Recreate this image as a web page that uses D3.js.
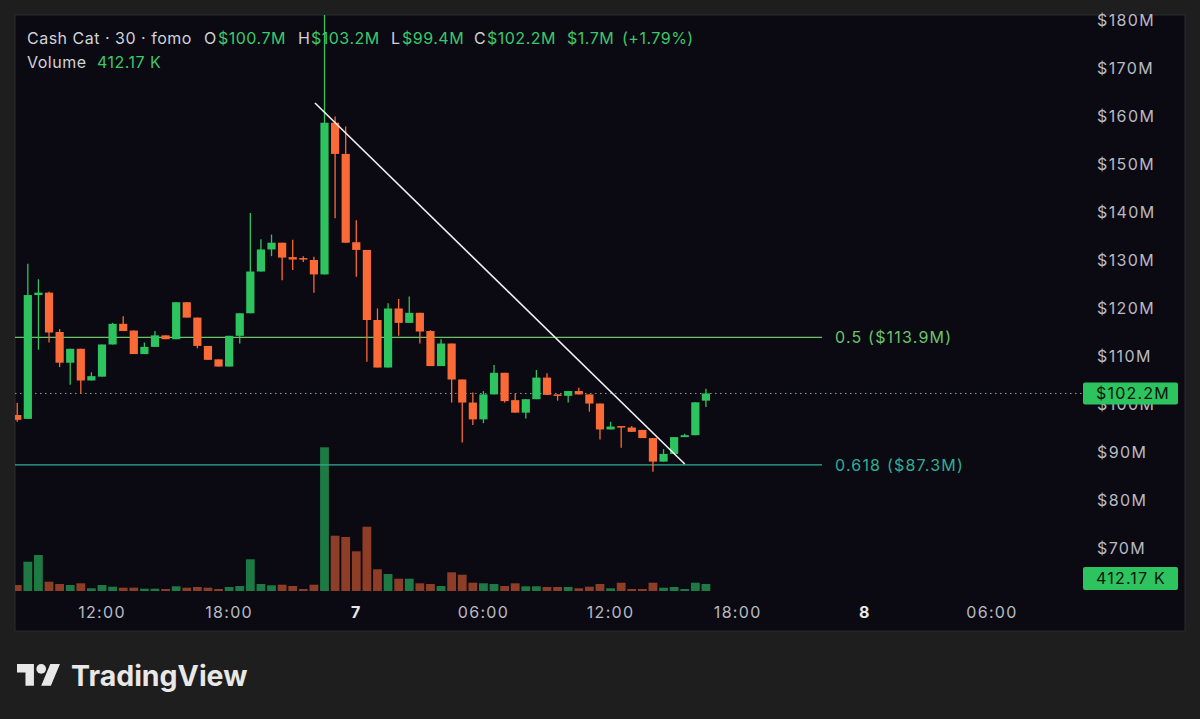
<!DOCTYPE html>
<html><head><meta charset="utf-8">
<script src="https://cdn.jsdelivr.net/npm/d3@7"></script>
<style>
html,body{margin:0;padding:0;background:#1e1e1e;}
svg{display:block;}
text{font-family:Inter,"Noto Sans",sans-serif;}
</style></head>
<body>
<svg id="chart" width="1200" height="719"></svg>
<script>
// ---------- DATA ----------
const startTime = new Date(2024, 5, 6, 8, 0);
const barMinutes = 30;
const opens  = [97.7,96.9,122.7,123.2,115.0,108.6,111.5,104.9,105.7,112.4,116.7,115.3,110.4,111.9,114.3,113.5,121.2,118.0,112.1,109.3,107.8,114.2,118.9,127.6,132.2,133.6,130.6,130.4,130.0,127.0,158.6,152.1,133.7,132.1,117.5,107.6,119.9,116.9,119.0,115.2,107.9,112.6,105.1,100.3,96.8,102.0,106.5,100.8,98.2,101.0,105.5,102.0,101.7,102.7,102.0,100.1,94.7,95.4,95.1,94.6,92.9,88.0,89.6,93.1,93.5,100.7];
const highs  = [100.2,129.2,126.0,123.4,115.6,111.5,111.5,106.6,112.4,116.9,118.3,115.3,112.8,115.2,114.3,121.2,121.2,118.0,112.1,109.3,114.2,118.9,139.8,134.3,135.3,133.6,134.2,130.8,130.7,186.0,159.9,157.8,138.3,132.1,119.9,121.0,121.9,122.4,119.0,115.4,113.5,112.6,105.1,102.4,102.7,108.1,106.5,102.2,101.0,107.1,106.4,102.0,102.7,103.4,102.0,100.1,96.3,95.4,95.4,94.6,92.9,90.6,93.1,93.8,100.35,103.2];
const lows   = [96.3,96.9,111.3,112.8,107.7,104.0,102.3,104.9,105.7,112.4,115.2,110.4,110.4,111.9,113.5,113.5,118.0,111.6,109.2,107.8,107.8,112.6,118.9,127.6,130.8,125.8,127.9,129.6,123.2,127.0,138.7,133.6,126.5,108.8,107.6,107.6,114.2,116.9,112.6,107.9,107.9,100.3,92.0,95.6,96.0,102.0,100.3,98.2,97.0,101.0,101.9,100.7,100.3,102.0,98.4,92.6,94.7,90.9,94.2,92.9,85.9,88.0,89.6,93.1,93.5,99.4];
const closes = [96.7,122.7,123.2,114.9,108.6,111.5,104.9,105.8,112.4,116.7,115.2,110.4,111.9,114.3,113.5,121.2,118.0,112.1,109.2,107.8,114.2,118.9,127.6,132.2,133.6,130.5,130.1,130.1,127.0,158.6,152.1,133.6,132.1,117.5,107.6,119.9,116.9,119.0,115.1,107.9,112.6,105.1,100.3,96.8,102.0,106.5,100.6,98.2,101.0,105.5,101.9,101.7,102.7,102.0,100.1,94.7,95.3,95.1,94.2,92.9,88.0,89.6,93.1,93.5,100.35,102.2];
const volumesK = [353,1726,2120,548,412,353,453,159,353,253,194,194,135,135,118,277,194,236,194,118,236,295,1867,412,336,371,295,118,371,8464,3257,3181,2338,3787,1278,1001,724,724,453,412,295,1101,960,489,453,412,295,453,277,277,236,236,236,159,253,412,159,489,118,118,489,194,236,118,489,412.17];

const priceTicks = [70,80,90,100,110,120,130,140,150,160,170,180];
const timeTicks = [new Date(2024,5,6,12), new Date(2024,5,6,18), new Date(2024,5,7,0), new Date(2024,5,7,6), new Date(2024,5,7,12), new Date(2024,5,7,18), new Date(2024,5,8,0), new Date(2024,5,8,6)];
const timeTickLabels = ["12:00","18:00","7","06:00","12:00","18:00","8","06:00"];
const dayTicks = ["7","8"];

const fibLevels = [0.5, 0.618];
const fibPrices = [113.9, 87.3];
const trendStart = {time: new Date(2024,5,6,22,3), price: 162.7};
const trendEnd   = {time: new Date(2024,5,7,15,30), price: 87.5};

const symbolText = "Cash Cat · 30 · fomo";
const lastO = 100.7, lastH = 103.2, lastL = 99.4, lastC = 102.2, lastChange = 1.7, lastChangePct = 1.79;
const lastVolumeLabel = "412.17 K";

// ---------- STYLE ----------
const UP = "#2dc45f", DOWN = "#fa6a37";
const UPV = "#1d7a45", DOWNV = "#8e3d27";
const BG = "#0b0a12";
const AXIS_TXT = "#b8bac2";

const svg = d3.select("#chart");
const W = 1200, H = 719;
const pane = {x0: 15, y0: 15, x1: 1185, y1: 631};
const plotRight = 1083;

svg.append("rect").attr("width", W).attr("height", H).attr("fill", "#1e1e1e");
svg.append("rect").attr("x", pane.x0).attr("y", pane.y0).attr("width", pane.x1 - pane.x0).attr("height", pane.y1 - pane.y0).attr("fill", BG).attr("stroke", "#2a2a30").attr("stroke-width", 1);

const times = opens.map((_, i) => new Date(startTime.getTime() + i * barMinutes * 60000));

const x = d3.scaleTime().domain([new Date(2024,5,6,12), new Date(2024,5,8,6)]).range([102, 992]);
const y = d3.scaleLinear().domain([70, 180]).range([548, 20]);
const yv = d3.scaleLinear().domain([0, 8500]).range([591, 446.7]);

const bodyW = 8.2, volW = 8.8;

svg.append("defs").append("clipPath").attr("id", "plotclip")
  .append("rect").attr("x", pane.x0).attr("y", pane.y0).attr("width", plotRight - pane.x0).attr("height", 590 - pane.y0 + 1);

const plot = svg.append("g").attr("clip-path", "url(#plotclip)");

// volume
plot.append("g").selectAll("rect").data(volumesK).join("rect")
  .attr("x", (d, i) => x(times[i]) - volW / 2)
  .attr("y", d => yv(d))
  .attr("width", volW)
  .attr("height", d => yv(0) - yv(d))
  .attr("fill", (d, i) => closes[i] >= opens[i] ? UPV : DOWNV);

// fib lines
const fibColors = ["#6cc36a", "#2fae96"];
fibPrices.forEach((p, k) => {
  plot.append("line").attr("x1", pane.x0).attr("x2", 822).attr("y1", y(p)).attr("y2", y(p))
    .attr("stroke", fibColors[k]).attr("stroke-width", 1.2);
  svg.append("text").attr("x", 835).attr("y", y(p)).attr("dy", "0.36em")
    .attr("fill", fibColors[k]).attr("font-size", 16).attr("letter-spacing", 1.2)
    .text(`${fibLevels[k]} ($${fibPrices[k]}M)`);
});

// last price dotted line
plot.append("line").attr("x1", pane.x0).attr("x2", plotRight).attr("y1", y(lastC)).attr("y2", y(lastC))
  .attr("stroke", "#8aa58f").attr("stroke-width", 1).attr("stroke-dasharray", "1.5,3.5");

// candles
const cg = plot.append("g");
opens.forEach((o, i) => {
  const c = closes[i], col = c >= o ? UP : DOWN, cx = x(times[i]);
  cg.append("line").attr("x1", cx).attr("x2", cx).attr("y1", y(highs[i])).attr("y2", y(lows[i]))
    .attr("stroke", col).attr("stroke-width", 1.3);
  const top = y(Math.max(o, c)), bot = y(Math.min(o, c));
  cg.append("rect").attr("x", cx - bodyW / 2).attr("y", top).attr("width", bodyW)
    .attr("height", Math.max(1.5, bot - top)).attr("fill", col);
});

// trend line
plot.append("line")
  .attr("x1", x(trendStart.time)).attr("y1", y(trendStart.price))
  .attr("x2", x(trendEnd.time)).attr("y2", y(trendEnd.price))
  .attr("stroke", "#f2f2f2").attr("stroke-width", 1.6);

// price axis
const pAxis = svg.append("g");
priceTicks.forEach(v => {
  pAxis.append("text").attr("x", 1097).attr("y", y(v)).attr("dy", "0.36em")
    .attr("fill", AXIS_TXT).attr("font-size", 16).attr("letter-spacing", 1.4)
    .text(`$${v}M`);
});

// last price tag
const tagY = y(lastC);
svg.append("rect").attr("x", 1083).attr("y", tagY - 11).attr("width", 95).attr("height", 22).attr("rx", 2).attr("fill", UP);
svg.append("text").attr("x", 1096).attr("y", tagY).attr("dy", "0.36em").attr("fill", "#08140c")
  .attr("font-size", 16).attr("letter-spacing", 1.2).text(`$${lastC}M`);

// volume tag
const vTagY = Math.min(yv(volumesK[volumesK.length - 1]), 590 - 11.5);
svg.append("rect").attr("x", 1083).attr("y", vTagY - 11.5).attr("width", 95).attr("height", 23).attr("rx", 2).attr("fill", UP);
svg.append("text").attr("x", 1096).attr("y", vTagY).attr("dy", "0.36em").attr("fill", "#08140c")
  .attr("font-size", 16).attr("letter-spacing", 1.2).text(lastVolumeLabel);

// time axis
timeTicks.forEach((t, i) => {
  const lab = timeTickLabels[i];
  const isDay = dayTicks.includes(lab);
  svg.append("text").attr("x", x(t)).attr("y", 612).attr("dy", "0.36em").attr("text-anchor", "middle")
    .attr("fill", isDay ? "#e6e7ea" : AXIS_TXT).attr("font-size", 16).attr("font-weight", isDay ? 700 : 400)
    .attr("letter-spacing", 1.3).text(lab);
});

// header legend
const hdr = svg.append("g").attr("font-size", 16);
const GRAYT = "#d0d2d8", GREENT = "#3cc86a";
const seg = [
  [27, symbolText, GRAYT],
  [204, "O", GRAYT], [218, `$${lastO}M`, GREENT],
  [298, "H", GRAYT], [311, `$${lastH}M`, GREENT],
  [391, "L", GRAYT], [402, `$${lastL}M`, GREENT],
  [474, "C", GRAYT], [487, `$${lastC}M`, GREENT],
  [567, `$${lastChange}M`, GREENT], [622, `(+${lastChangePct}%)`, GREENT]
];
seg.forEach(s => hdr.append("text").attr("x", s[0]).attr("y", 38).attr("dy", "0.36em").attr("fill", s[2]).attr("letter-spacing", 0.5).text(s[1]));
hdr.append("text").attr("x", 27).attr("y", 62).attr("dy", "0.36em").attr("fill", GRAYT).attr("letter-spacing", 0.5).text("Volume");
hdr.append("text").attr("x", 97).attr("y", 62).attr("dy", "0.36em").attr("fill", GREENT).attr("letter-spacing", 0.5).text(lastVolumeLabel);

// TradingView logo
const logo = svg.append("g").attr("transform", "translate(17,659.2) scale(1.21)").attr("fill", "#e8e8e8");
logo.append("path").attr("d", "M14 22H7V11H0V4h14v18zM28 22h-8l7.5-18h8L28 22z");
logo.append("circle").attr("cx", 20).attr("cy", 8).attr("r", 4);
svg.append("text").attr("x", 71).attr("y", 686).attr("fill", "#e8e8e8").attr("font-size", 28.5)
  .attr("font-weight", 700).attr("letter-spacing", 0).text("TradingView");
</script>
</body></html>
